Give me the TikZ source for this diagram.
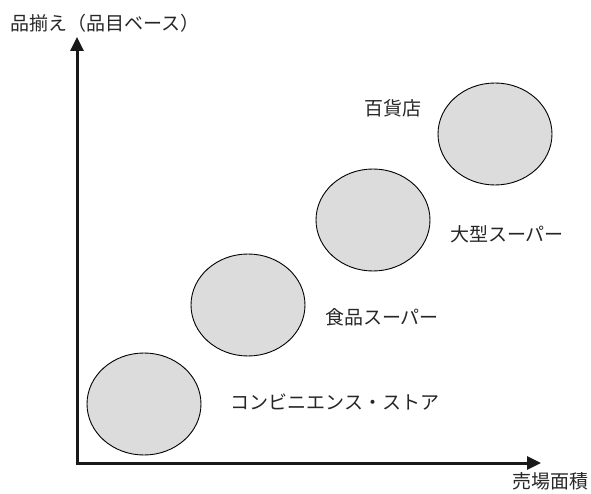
\documentclass[tikz,border=0pt]{standalone}
\usepackage{fontspec}
\newfontfamily\jp{Noto Sans CJK JP}
\usetikzlibrary{arrows.meta,shapes.geometric}
\definecolor{blobfill}{HTML}{DCDCDC}
\begin{document}
\begin{tikzpicture}[x=1pt,y=-1pt,
  blob/.style={ellipse,draw=black,line width=0.9pt,fill=blobfill,minimum width=114pt,minimum height=102pt,inner sep=0pt},
  lbl/.style={font=\jp\fontsize{19}{22}\selectfont,inner sep=0pt,text=black!85},
  axis/.style={line width=3pt,draw=black!90,-{Triangle[length=14pt,width=13pt]}}]
\useasboundingbox (0,0) rectangle (591,494);
\coordinate (o) at (77,463);
\coordinate (ytop) at (77,37);
\coordinate (xend) at (541,463);
\draw[axis] (o) -- (ytop);
\draw[axis] ([xshift=-1.5pt]o) -- (xend);
\node[blob] (conv) at (144,404) {};
\node[blob] (food) at (248,305) {};
\node[blob] (gms) at (373,220) {};
\node[blob] (dept) at (495,134) {};
\node[lbl] (tconv) at (335,402) {コンビニエンス・ストア};
\node[lbl] (tfood) at (382,317) {食品スーパー};
\node[lbl] (tgms) at (507,234) {大型スーパー};
\node[lbl] (tdept) at (393,108) {百貨店};
\node[lbl] (ylab) at (105,23) {品揃え（品目ベース）};
\node[lbl] (xlab) at (550,481) {売場面積};
\end{tikzpicture}
\end{document}
